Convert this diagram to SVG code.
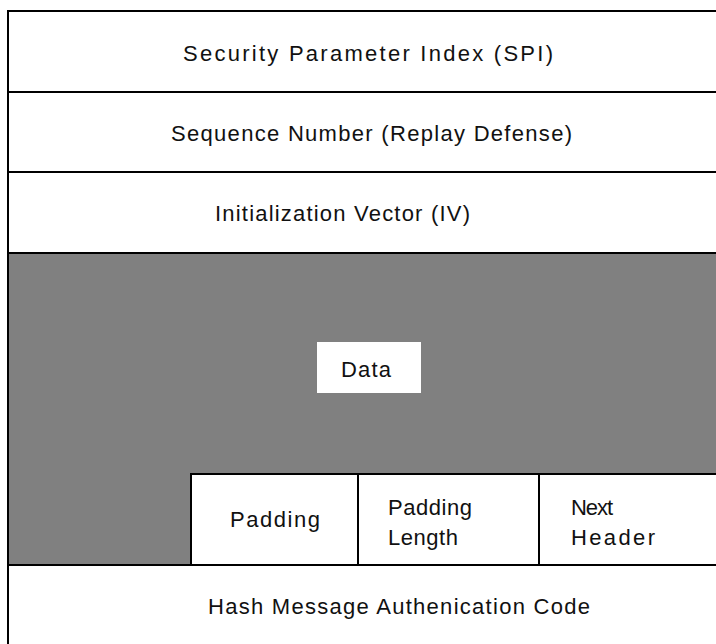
<svg xmlns="http://www.w3.org/2000/svg" width="716" height="644" viewBox="0 0 716 644">
<style>
.t{font-family:"Liberation Sans",Arial,sans-serif;font-size:22px;fill:#111;}
.ln{stroke:#000;stroke-width:2;fill:none;}
</style>
<rect width="716" height="644" fill="#fff"/>
<g id="frame">
<rect x="8" y="253" width="710" height="312" fill="#808080"/>
<line class="ln" x1="8" y1="11" x2="718" y2="11"/>
<line class="ln" x1="8" y1="10" x2="8" y2="644"/>
</g>
<g id="spi">
<text class="t" x="183" y="61" textLength="370" lengthAdjust="spacing">Security Parameter Index (SPI)</text>
</g>
<g id="seq">
<line class="ln" x1="8" y1="92" x2="718" y2="92"/>
<text class="t" x="171" y="141" textLength="401" lengthAdjust="spacing">Sequence Number (Replay Defense)</text>
</g>
<g id="iv">
<line class="ln" x1="8" y1="172" x2="718" y2="172"/>
<text class="t" x="215" y="221" textLength="255" lengthAdjust="spacing">Initialization Vector (IV)</text>
</g>
<g id="data">
<line class="ln" x1="8" y1="253" x2="718" y2="253"/>
<rect x="317" y="342" width="104" height="51" fill="#fff"/>
<text class="t" x="341" y="377" textLength="50" lengthAdjust="spacing">Data</text>
</g>
<g id="padding">
<rect x="191" y="474" width="527" height="91" fill="#fff"/>
<line class="ln" x1="191" y1="474" x2="718" y2="474"/>
<line class="ln" x1="191" y1="473" x2="191" y2="565"/>
<text class="t" x="230" y="527" textLength="90" lengthAdjust="spacing">Padding</text>
</g>
<g id="padlen">
<line class="ln" x1="358" y1="474" x2="358" y2="565"/>
<text class="t" x="388" y="515" textLength="84" lengthAdjust="spacing">Padding</text>
<text class="t" x="388" y="545" textLength="70" lengthAdjust="spacing">Length</text>
</g>
<g id="nexthdr">
<line class="ln" x1="539" y1="474" x2="539" y2="565"/>
<text class="t" x="571" y="515" textLength="42" lengthAdjust="spacing">Next</text>
<text class="t" x="571" y="545" textLength="84" lengthAdjust="spacing">Header</text>
</g>
<g id="hmac">
<line class="ln" x1="8" y1="565" x2="718" y2="565"/>
<text class="t" x="208" y="614" textLength="382" lengthAdjust="spacing">Hash Message Authenication Code</text>
</g>
</svg>
